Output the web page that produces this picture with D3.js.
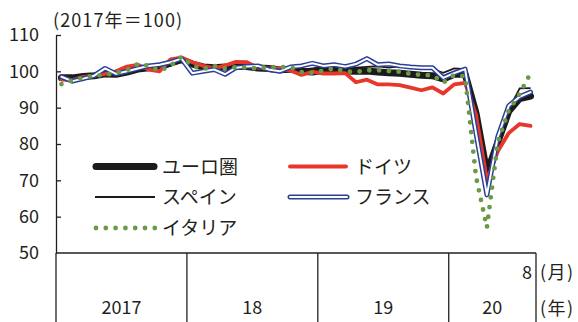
<!DOCTYPE html>
<html><head><meta charset="utf-8">
<script src="https://cdn.jsdelivr.net/npm/d3@7"></script>
<style>
html,body{margin:0;padding:0;background:#fff;}
svg{display:block;font-family:"Noto Sans CJK JP","Noto Sans",sans-serif;}
</style></head><body>
<svg id="chart" width="578" height="322"></svg>
<script>
// Industrial production index, 2017 = 100, monthly Jan 2017 – Aug 2020
const months = [
  "2017-01","2017-02","2017-03","2017-04","2017-05","2017-06","2017-07","2017-08","2017-09","2017-10","2017-11","2017-12",
  "2018-01","2018-02","2018-03","2018-04","2018-05","2018-06","2018-07","2018-08","2018-09","2018-10","2018-11","2018-12",
  "2019-01","2019-02","2019-03","2019-04","2019-05","2019-06","2019-07","2019-08","2019-09","2019-10","2019-11","2019-12",
  "2020-01","2020-02","2020-03","2020-04","2020-05","2020-06","2020-07","2020-08"
];
const euroArea = [
  98.2, 98.2, 98.6, 98.8, 99.3, 99.2, 99.8, 100.6, 101.0, 101.2, 102.3, 103.2,
  102.0, 101.2, 101.0, 101.2, 101.3, 101.3, 100.9, 100.8, 100.4, 100.6, 100.0, 99.8,
  100.3, 100.4, 100.1, 100.0, 100.1, 99.8, 99.6, 99.5, 99.2, 98.9, 98.8, 97.9,
  99.2, 99.3, 88.5, 72.0, 80.5, 89.0, 92.5, 93.2
];
const germany = [
  97.8, 97.6, 98.5, 98.8, 99.3, 100.0, 101.3, 101.8, 100.5, 100.0, 103.3, 103.8,
  102.5, 101.5, 100.8, 101.6, 102.6, 102.5, 101.0, 100.8, 100.8, 100.2, 99.0, 99.9,
  99.4, 99.4, 99.5, 97.0, 97.7, 96.4, 96.4, 96.2, 95.5, 94.8, 95.6, 93.9,
  96.4, 96.8, 88.0, 70.0, 78.0, 83.0, 85.5, 85.0
];
const spain = [
  97.8, 98.0, 98.6, 98.7, 99.4, 99.8, 99.8, 100.5, 100.6, 100.8, 101.5, 102.6,
  101.8, 101.0, 101.3, 101.2, 101.2, 101.0, 101.3, 101.0, 100.6, 100.8, 100.4, 100.8,
  101.2, 101.0, 100.6, 101.0, 101.2, 101.4, 101.0, 101.4, 101.0, 100.8, 100.6, 99.6,
  100.8, 100.6, 88.0, 67.5, 80.0, 89.5, 95.3, 95.4
];
const france = [
  98.5, 97.3, 98.0, 98.8, 100.8, 99.3, 100.0, 100.8, 101.5, 101.8, 102.5, 103.5,
  99.5, 100.0, 100.5, 99.2, 101.0, 101.3, 101.5, 100.5, 100.0, 101.2, 101.5, 102.2,
  101.5, 101.8, 101.3, 102.0, 103.5, 101.8, 102.0, 101.5, 101.2, 101.0, 101.0, 98.2,
  99.5, 100.6, 83.0, 66.0, 82.0, 90.5, 93.0, 94.3
];
const italy = [
  96.5, 97.5, 98.3, 98.8, 99.0, 99.6, 100.3, 102.0, 101.5, 100.2, 101.5, 104.0,
  101.5, 100.6, 101.5, 100.8, 101.1, 101.0, 100.8, 101.2, 101.1, 101.2, 99.8, 99.6,
  100.2, 100.8, 100.0, 99.8, 100.3, 100.3, 100.1, 99.9, 99.3, 99.0, 98.9, 96.9,
  99.0, 98.6, 71.0, 57.0, 80.5, 89.2, 93.8, 99.5
];
const seriesNames = ["ユーロ圏", "ドイツ", "スペイン", "フランス", "イタリア"];
const yTicks = [50, 60, 70, 80, 90, 100, 110];
const yearLabels = ["2017", "18", "19", "20"];
const yearStartIndex = [0, 12, 24, 36];
const lastMonthLabel = "8";
const unitLabel = "(2017年＝100)";

const ink = "#231f20";
const svg = d3.select("#chart");

const x = d3.scaleLinear().domain([0, months.length]).range([56, 536]);
const y = d3.scaleLinear().domain([50, 110]).range([253, 35]);
const line = d3.line().x((d, i) => x(i + 0.5)).y(d => y(d));

// y axis: ticks point into the plot, labels on the left
const yAxis = d3.axisLeft(y).tickValues(yTicks).tickSize(-5).tickSizeOuter(0).tickPadding(17);
const gy = svg.append("g").attr("transform", "translate(56,0)").call(yAxis);
gy.select(".domain").attr("stroke", ink).attr("stroke-width", 1.3);
gy.selectAll(".tick line").attr("stroke", ink).attr("stroke-width", 1.3);
gy.selectAll(".tick text").attr("fill", ink).attr("font-size", 18)
  .attr("font-family", "'Noto Sans CJK JP', sans-serif");
gy.selectAll(".tick").filter(d => d === 50).select("line").remove();

// baseline and year dividers
svg.append("line").attr("x1", x(0)).attr("x2", x(months.length))
  .attr("y1", y(50)).attr("y2", y(50)).attr("stroke", ink).attr("stroke-width", 1.3);
const dividers = yearStartIndex.concat([months.length]);
svg.selectAll(".divider").data(dividers).join("line").attr("class", "divider")
  .attr("x1", d => x(d)).attr("x2", d => x(d))
  .attr("y1", y(50)).attr("y2", 322).attr("stroke", ink).attr("stroke-width", 1.3);

svg.selectAll(".year").data(yearLabels).join("text").attr("class", "year")
  .attr("x", (d, i) => (x(yearStartIndex[i]) + x(dividers[i + 1])) / 2)
  .attr("y", 314).attr("text-anchor", "middle").attr("font-size", 18).attr("fill", ink)
  .text(d => d);
svg.append("text").attr("x", x(months.length) - 4).attr("y", 279).attr("text-anchor", "end")
  .attr("font-size", 18).attr("fill", ink).text(lastMonthLabel);
svg.append("text").attr("x", 540).attr("y", 279).attr("font-size", 18).attr("letter-spacing", 1.5)
  .attr("fill", ink).text("(月)");
svg.append("text").attr("x", 540).attr("y", 315).attr("font-size", 18).attr("letter-spacing", 1.5)
  .attr("fill", ink).text("(年)");
svg.append("text").attr("x", 53).attr("y", 27).attr("font-size", 18).attr("letter-spacing", 1.1)
  .attr("fill", ink).text(unitLabel);

// series styles
const red = "#e8372a", blue = "#2c3f98", green = "#6b9a45";
function drawSeries(g, values, kind, pathFn) {
  const d = pathFn(values);
  if (kind === "euro") {
    g.append("path").attr("d", d).attr("fill", "none").attr("stroke", "#1c1a1b")
      .attr("stroke-width", 7).attr("stroke-linejoin", "round").attr("stroke-linecap", "round");
  } else if (kind === "spain") {
    g.append("path").attr("d", d).attr("fill", "none").attr("stroke", "#1c1a1b")
      .attr("stroke-width", 1.8).attr("stroke-linejoin", "miter");
  } else if (kind === "germany") {
    g.append("path").attr("d", d).attr("fill", "none").attr("stroke", red)
      .attr("stroke-width", 3.8).attr("stroke-linejoin", "round").attr("stroke-linecap", "round");
  } else if (kind === "france") {
    g.append("path").attr("d", d).attr("fill", "none").attr("stroke", blue)
      .attr("stroke-width", 5).attr("stroke-linejoin", "round").attr("stroke-linecap", "round");
    g.append("path").attr("d", d).attr("fill", "none").attr("stroke", "#fff")
      .attr("stroke-width", 2).attr("stroke-linejoin", "round").attr("stroke-linecap", "round");
  } else if (kind === "italy") {
    g.append("path").attr("d", d).attr("fill", "none").attr("stroke", green)
      .attr("stroke-width", 4.8).attr("stroke-linecap", "round").attr("stroke-dasharray", "0 9.8");
  }
}

const series = [
  { values: euroArea, kind: "euro" },
  { values: spain, kind: "spain" },
  { values: germany, kind: "germany" },
  { values: france, kind: "france" },
  { values: italy, kind: "italy" }
];
const plot = svg.append("g");
series.forEach(s => drawSeries(plot, s.values, s.kind, line));

// legend
const legendItems = [
  { name: seriesNames[0], kind: "euro", x0: 96, x1: 154, ly: 166.5 },
  { name: seriesNames[1], kind: "germany", x0: 290, x1: 346, ly: 166.5 },
  { name: seriesNames[2], kind: "spain", x0: 95, x1: 155, ly: 197 },
  { name: seriesNames[3], kind: "france", x0: 290, x1: 347, ly: 197 },
  { name: seriesNames[4], kind: "italy", x0: 96, x1: 156, ly: 228 }
];
const legend = svg.append("g");
const straight = pts => d3.line()(pts);
legendItems.forEach(it => {
  const g = legend.append("g");
  const pts = [[it.x0, it.ly], [it.x1, it.ly]];
  drawSeries(g, null, it.kind, () => straight(pts));
  g.append("text").attr("x", it.kind === "germany" || it.kind === "france" ? 355 : 162)
    .attr("y", it.ly + 7).attr("font-size", 19).attr("fill", ink).text(it.name);
});
</script>
</body></html>
